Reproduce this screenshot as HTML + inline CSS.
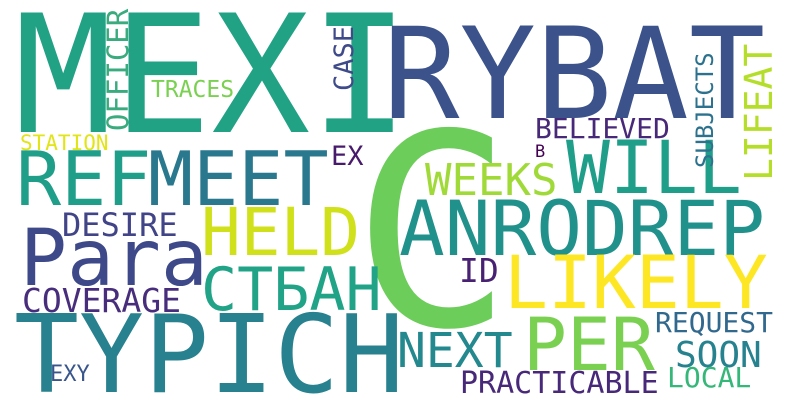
<!DOCTYPE html>
<html><head><meta charset="utf-8"><style>
html,body{margin:0;padding:0;background:#fff;}
svg{display:block;}
text{font-family:"DejaVu Sans Mono","Liberation Mono",monospace;}
</style></head><body>
<svg id="cloud" width="790" height="405" viewBox="0 0 790 405"></svg>
<script>
const words = ["MEXI","RYBAT","C","OFFICER","TRACES","CASE","STATION","EX","REF","MEET","HELD","DESIRE","Para","СТБАН","COVERAGE","TYPICH","EXY","BELIEVED","B","WILL","WEEKS","SUBJECTS","LIFEAT","ANRODREP","LIKELY","ID","PER","NEXT","REQUEST","SOON","LOCAL","PRACTICABLE"];
const sizes = [164,127,267,29,23,27,21,27,75,75,66,32,78,60,33,108,22,28,17,73,44,24,38,76,73,33,73,48,28,36,28,30];
const colors = ["#22a284","#3b528b","#6ccd5a","#3aab7e","#7ad151","#3e4a89","#e2e418","#481a6c","#1f9e89","#2a788e","#d0e11c","#414487","#3e4989","#20a386","#472d7b","#28818e","#39568c","#482878","#440154","#1f9e89","#a0da39","#2c728e","#b5de2b","#21918c","#fde725","#482173","#7ad151","#23898e","#31688e","#26828e","#35b779","#482878"];
const layout = [[14,132,0],[383,118,0],[352,325,0],[128,131,1],[151,97,0],[353,91,1],[20,150,0],[331,165,0],[16,205,0],[148,205,0],[201,255,0],[62,236,0],[20,285,0],[201,310,0],[22,312,0],[14,392,0],[50,381,0],[535,138,0],[535,157,0],[566,193,0],[425,195,0],[713,168,1],[772,181,1],[399,255,0],[504,308,0],[459,282,0],[523,370,0],[397,367,0],[655,332,0],[675,367,0],[667,387,0],[460,393,0]];
const svg = document.getElementById('cloud');
const NS = 'http://www.w3.org/2000/svg';
words.forEach((w,i)=>{
  const t = document.createElementNS(NS,'text');
  const [x,y,rot] = layout[i];
  t.setAttribute('x', x);
  t.setAttribute('y', y);
  t.setAttribute('font-size', sizes[i]);
  t.setAttribute('fill', colors[i]);
  if (rot) t.setAttribute('transform', 'rotate(-90 '+x+' '+y+')');
  t.textContent = w;
  
  
  svg.appendChild(t);
});
</script>
</body></html>
